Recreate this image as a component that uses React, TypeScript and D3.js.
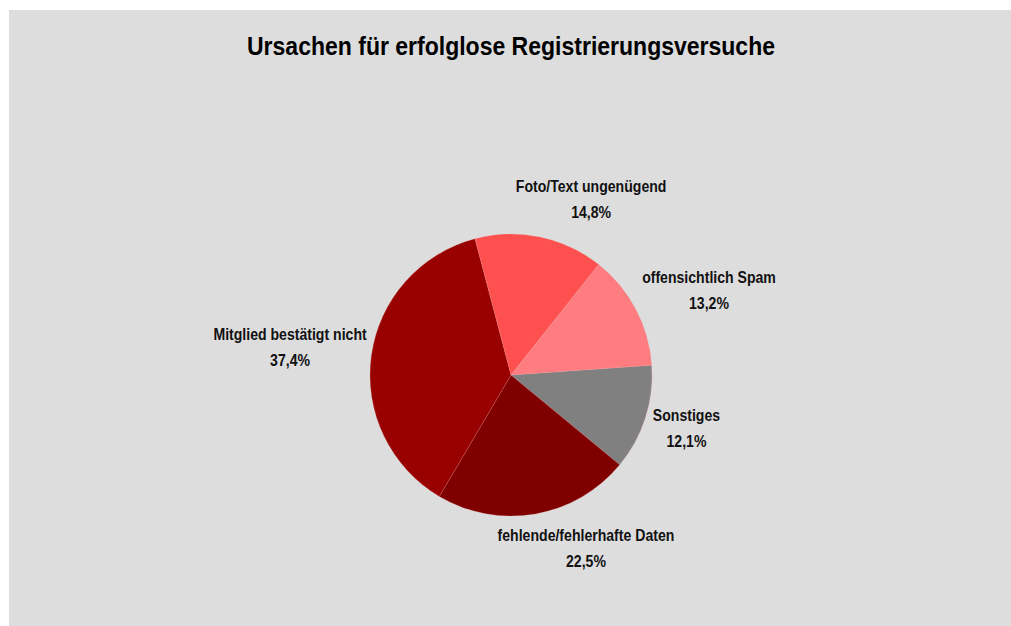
import React from "react";
import * as d3 from "d3";

const categories = [
  "Sonstiges",
  "fehlende/fehlerhafte Daten",
  "Mitglied bestätigt nicht",
  "Foto/Text ungenügend",
  "offensichtlich Spam",
];
const values = [12.1, 22.5, 37.4, 14.8, 13.2];
const valueLabels = ["12,1%", "22,5%", "37,4%", "14,8%", "13,2%"];
const colors = ["#808080", "#800000", "#990000", "#FF5050", "#FF7C80"];
const title = "Ursachen für erfolglose Registrierungsversuche";

// label placement (layout): polar offset of label centre from pie centre
const labelAngleDeg = [107.1, 156.7, 277.0, 24.6, 67.0];
const labelDist = [183.6, 189.5, 222.6, 192.4, 215.1];

const W = 1011;
const H = 626;
const cx = 511;
const cy = 375;
const R = 141;
const START = (86 * Math.PI) / 180;
const FONT = "'Liberation Sans', Arial, sans-serif";

export default function App() {
  const data = categories.map((c, i) => ({ c, v: values[i], i }));
  const pie = d3
    .pie<any>()
    .sort(null)
    .value((d) => d.v)
    .startAngle(START)
    .endAngle(START + 2 * Math.PI);
  const arcs = pie(data);
  const arc = d3.arc<any>().innerRadius(0).outerRadius(R);

  return (
    <svg
      width={W}
      height={H}
      style={{ position: "fixed", left: 0, top: 0, display: "block" }}
    >
      <rect x={0} y={0} width={W} height={H} fill="#ffffff" />
      <rect x={9} y={10} width={W - 9} height={H - 10} fill="#DDDDDD" />
      <g transform={`translate(${cx},55) scale(0.885,1)`}>
        <text
          x={0}
          y={0}
          textAnchor="middle"
          fontFamily={FONT}
          fontWeight="bold"
          fontSize={26}
          fill="#000"
        >
          {title}
        </text>
      </g>
      <g transform={`translate(${cx},${cy})`}>
        {arcs.map((a, i) => (
          <path
            key={i}
            d={arc(a) as string}
            fill={colors[a.data.i]}
            stroke="#e8a0a0"
            strokeOpacity={0.35}
            strokeWidth={0.6}
          />
        ))}
      </g>
      {arcs.map((a, i) => {
        const ang = (labelAngleDeg[i] * Math.PI) / 180;
        const lx = cx + labelDist[i] * Math.sin(ang);
        const ly = cy - labelDist[i] * Math.cos(ang);
        return (
          <g key={i} transform={`translate(${lx},${ly}) scale(0.88,1)`}>
            <text
              x={0}
              y={0}
              textAnchor="middle"
              fontFamily={FONT}
              fontWeight="bold"
              fontSize={16}
              fill="#111"
            >
              <tspan x={0} dy={-8}>
                {a.data.c}
              </tspan>
              <tspan x={0} dy={26}>
                {valueLabels[i]}
              </tspan>
            </text>
          </g>
        );
      })}
    </svg>
  );
}
